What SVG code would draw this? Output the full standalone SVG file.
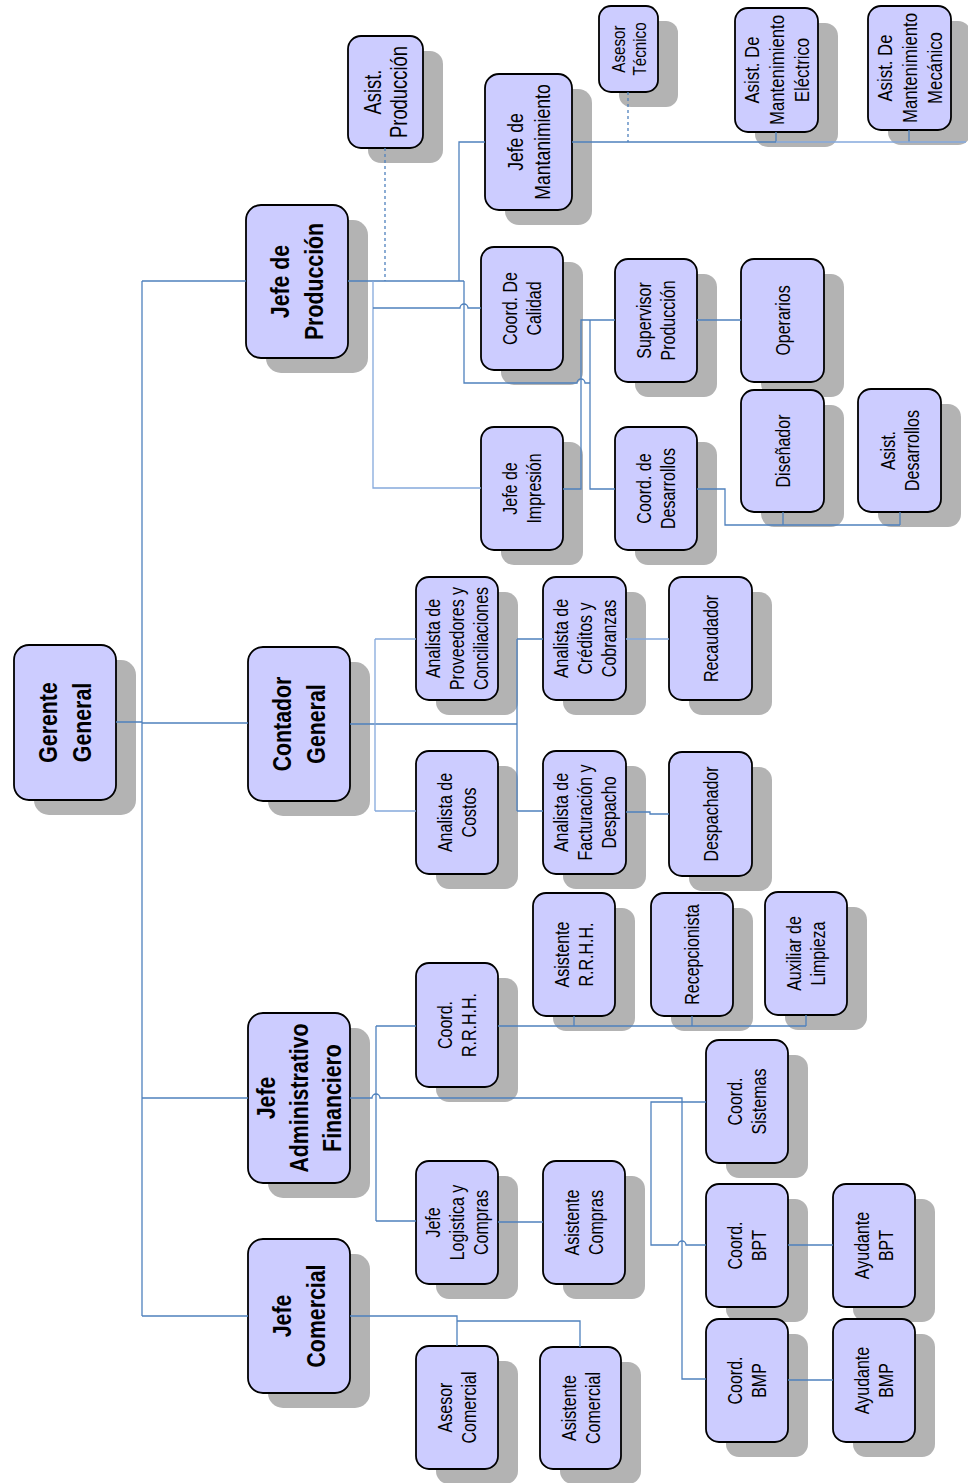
<svg xmlns="http://www.w3.org/2000/svg" width="968" height="1483" viewBox="0 0 968 1483">
<style>
.sh{fill:#B3B3B3}
.bx{fill:#CCCCFF;stroke:#000;stroke-width:1.8}
.t{font-family:"Liberation Sans",Arial,sans-serif;text-anchor:middle;fill:#000}
.b{font-size:26px;font-weight:bold}
.s{font-size:20px}
.c{fill:none;stroke:#4F81BD;stroke-width:1.3}
.l{stroke:#85A9DC}
.d{stroke-dasharray:3 3}
</style>
<rect width="968" height="1483" fill="#FFFFFF"/>

<g id="gerente">
<rect class="sh" x="34" y="660" width="102" height="155" rx="15"/>
<rect class="bx" x="14" y="645" width="102" height="155" rx="15"/>
<text class="t b" transform="translate(65 722.5) rotate(-90) scale(0.82 1)"><tspan x="0" dy="-7.6">Gerente</tspan><tspan x="0" dy="34">General</tspan></text>
</g>
<g id="jefe-produccion">
<rect class="sh" x="266" y="220" width="102" height="153" rx="15"/>
<rect class="bx" x="246" y="205" width="102" height="153" rx="15"/>
<text class="t b" transform="translate(297 281.5) rotate(-90) scale(0.82 1)"><tspan x="0" dy="-7.6">Jefe de</tspan><tspan x="0" dy="34">Producción</tspan></text>
</g>
<g id="contador">
<rect class="sh" x="268" y="662" width="102" height="154" rx="15"/>
<rect class="bx" x="248" y="647" width="102" height="154" rx="15"/>
<text class="t b" transform="translate(299 724) rotate(-90) scale(0.82 1)"><tspan x="0" dy="-7.6">Contador</tspan><tspan x="0" dy="34">General</tspan></text>
</g>
<g id="jefe-administrativo">
<rect class="sh" x="268" y="1028" width="102" height="170" rx="15"/>
<rect class="bx" x="248" y="1013" width="102" height="170" rx="15"/>
<text class="t b" transform="translate(299 1098) rotate(-90) scale(0.82 1)"><tspan x="0" dy="-23.6">Jefe</tspan><tspan x="0" dy="33">Administrativo</tspan><tspan x="0" dy="33">Financiero</tspan></text>
</g>
<g id="jefe-comercial">
<rect class="sh" x="268" y="1254" width="102" height="154" rx="15"/>
<rect class="bx" x="248" y="1239" width="102" height="154" rx="15"/>
<text class="t b" transform="translate(299 1316) rotate(-90) scale(0.82 1)"><tspan x="0" dy="-7.6">Jefe</tspan><tspan x="0" dy="34">Comercial</tspan></text>
</g>

<g id="asist-produccion">
<rect class="sh" x="368" y="51" width="75" height="112" rx="13"/>
<rect class="bx" x="348" y="36" width="75" height="112" rx="13"/>
<text class="t" style="font-size:23px" transform="translate(385.5 92) rotate(-90) scale(0.8 1)"><tspan x="0" dy="-4.7">Asist.</tspan><tspan x="0" dy="26">Producción</tspan></text>
</g>
<g id="jefe-mantenimiento">
<rect class="sh" x="505" y="89" width="87" height="136" rx="14"/>
<rect class="bx" x="485" y="74" width="87" height="136" rx="14"/>
<text class="t" style="font-size:22px" transform="translate(528.5 142) rotate(-90) scale(0.8 1)"><tspan x="0" dy="-5.6">Jefe de</tspan><tspan x="0" dy="27">Mantanimiento</tspan></text>
</g>
<g id="asesor-tecnico">
<rect class="sh" x="619" y="21" width="59" height="86" rx="12"/>
<rect class="bx" x="599" y="6" width="59" height="86" rx="12"/>
<text class="t" style="font-size:19px" transform="translate(628.5 49) rotate(-90) scale(0.8 1)"><tspan x="0" dy="-4">Asesor</tspan><tspan x="0" dy="22">Técnico</tspan></text>
</g>
<g id="asist-mant-electrico">
<rect class="sh" x="755" y="23" width="83" height="124" rx="13"/>
<rect class="bx" x="735" y="8" width="83" height="124" rx="13"/>
<text class="t" style="font-size:21px" transform="translate(776.5 70) rotate(-90) scale(0.8 1)"><tspan x="0" dy="-17.4">Asist. De</tspan><tspan x="0" dy="25">Mantenimiento</tspan><tspan x="0" dy="25">Eléctrico</tspan></text>
</g>
<g id="asist-mant-mecanico">
<rect class="sh" x="888" y="21" width="83" height="124" rx="13"/>
<rect class="bx" x="868" y="6" width="83" height="124" rx="13"/>
<text class="t" style="font-size:21px" transform="translate(909.5 68) rotate(-90) scale(0.8 1)"><tspan x="0" dy="-17.4">Asist. De</tspan><tspan x="0" dy="25">Mantenimiento</tspan><tspan x="0" dy="25">Mecánico</tspan></text>
</g>
<g id="coord-calidad">
<rect class="sh" x="501" y="262" width="82" height="123" rx="13"/>
<rect class="bx" x="481" y="247" width="82" height="123" rx="13"/>
<text class="t s" transform="translate(522 308.5) rotate(-90) scale(0.8 1)"><tspan x="0" dy="-4.8">Coord. De</tspan><tspan x="0" dy="24">Calidad</tspan></text>
</g>
<g id="supervisor-produccion">
<rect class="sh" x="635" y="274" width="82" height="123" rx="13"/>
<rect class="bx" x="615" y="259" width="82" height="123" rx="13"/>
<text class="t s" transform="translate(656 320.5) rotate(-90) scale(0.8 1)"><tspan x="0" dy="-4.8">Supervisor</tspan><tspan x="0" dy="24">Producción</tspan></text>
</g>
<g id="operarios">
<rect class="sh" x="761" y="274" width="83" height="123" rx="13"/>
<rect class="bx" x="741" y="259" width="83" height="123" rx="13"/>
<text class="t s" transform="translate(782.5 320.5) rotate(-90) scale(0.8 1)"><tspan x="0" dy="7.2">Operarios</tspan></text>
</g>
<g id="disenador">
<rect class="sh" x="761" y="405" width="83" height="122" rx="13"/>
<rect class="bx" x="741" y="390" width="83" height="122" rx="13"/>
<text class="t s" transform="translate(782.5 451) rotate(-90) scale(0.8 1)"><tspan x="0" dy="7.2">Diseñador</tspan></text>
</g>
<g id="asist-desarrollos">
<rect class="sh" x="878" y="404" width="83" height="123" rx="13"/>
<rect class="bx" x="858" y="389" width="83" height="123" rx="13"/>
<text class="t s" transform="translate(899.5 450.5) rotate(-90) scale(0.8 1)"><tspan x="0" dy="-4.8">Asist.</tspan><tspan x="0" dy="24">Desarrollos</tspan></text>
</g>
<g id="jefe-impresion">
<rect class="sh" x="501" y="442" width="82" height="123" rx="13"/>
<rect class="bx" x="481" y="427" width="82" height="123" rx="13"/>
<text class="t s" transform="translate(522 488.5) rotate(-90) scale(0.8 1)"><tspan x="0" dy="-4.8">Jefe de</tspan><tspan x="0" dy="24">Impresión</tspan></text>
</g>
<g id="coord-desarrollos">
<rect class="sh" x="635" y="442" width="82" height="123" rx="13"/>
<rect class="bx" x="615" y="427" width="82" height="123" rx="13"/>
<text class="t s" transform="translate(656 488.5) rotate(-90) scale(0.8 1)"><tspan x="0" dy="-4.8">Coord. de</tspan><tspan x="0" dy="24">Desarrollos</tspan></text>
</g>
<g id="analista-proveedores">
<rect class="sh" x="436" y="592" width="82" height="123" rx="13"/>
<rect class="bx" x="416" y="577" width="82" height="123" rx="13"/>
<text class="t s" transform="translate(457 638.5) rotate(-90) scale(0.8 1)"><tspan x="0" dy="-16.8">Analista de</tspan><tspan x="0" dy="24">Proveedores y</tspan><tspan x="0" dy="24">Conciliaciones</tspan></text>
</g>
<g id="analista-creditos">
<rect class="sh" x="563" y="592" width="83" height="123" rx="13"/>
<rect class="bx" x="543" y="577" width="83" height="123" rx="13"/>
<text class="t s" transform="translate(584.5 638.5) rotate(-90) scale(0.8 1)"><tspan x="0" dy="-16.8">Analista de</tspan><tspan x="0" dy="24">Créditos y</tspan><tspan x="0" dy="24">Cobranzas</tspan></text>
</g>
<g id="recaudador">
<rect class="sh" x="689" y="592" width="83" height="123" rx="13"/>
<rect class="bx" x="669" y="577" width="83" height="123" rx="13"/>
<text class="t s" transform="translate(710.5 638.5) rotate(-90) scale(0.8 1)"><tspan x="0" dy="7.2">Recaudador</tspan></text>
</g>
<g id="analista-costos">
<rect class="sh" x="436" y="766" width="82" height="123" rx="13"/>
<rect class="bx" x="416" y="751" width="82" height="123" rx="13"/>
<text class="t s" transform="translate(457 812.5) rotate(-90) scale(0.8 1)"><tspan x="0" dy="-4.8">Analista de</tspan><tspan x="0" dy="24">Costos</tspan></text>
</g>
<g id="analista-facturacion">
<rect class="sh" x="563" y="766" width="83" height="123" rx="13"/>
<rect class="bx" x="543" y="751" width="83" height="123" rx="13"/>
<text class="t s" transform="translate(584.5 812.5) rotate(-90) scale(0.8 1)"><tspan x="0" dy="-16.8">Analista de</tspan><tspan x="0" dy="24">Facturación y</tspan><tspan x="0" dy="24">Despacho</tspan></text>
</g>
<g id="despachador">
<rect class="sh" x="689" y="767" width="83" height="124" rx="13"/>
<rect class="bx" x="669" y="752" width="83" height="124" rx="13"/>
<text class="t s" transform="translate(710.5 814) rotate(-90) scale(0.8 1)"><tspan x="0" dy="7.2">Despachador</tspan></text>
</g>
<g id="asistente-rrhh">
<rect class="sh" x="553" y="908" width="82" height="123" rx="13"/>
<rect class="bx" x="533" y="893" width="82" height="123" rx="13"/>
<text class="t s" transform="translate(574 954.5) rotate(-90) scale(0.8 1)"><tspan x="0" dy="-4.8">Asistente</tspan><tspan x="0" dy="24">R.R.H.H.</tspan></text>
</g>
<g id="recepcionista">
<rect class="sh" x="671" y="908" width="82" height="123" rx="13"/>
<rect class="bx" x="651" y="893" width="82" height="123" rx="13"/>
<text class="t s" transform="translate(692 954.5) rotate(-90) scale(0.8 1)"><tspan x="0" dy="7.2">Recepcionista</tspan></text>
</g>
<g id="auxiliar-limpieza">
<rect class="sh" x="785" y="907" width="82" height="123" rx="13"/>
<rect class="bx" x="765" y="892" width="82" height="123" rx="13"/>
<text class="t s" transform="translate(806 953.5) rotate(-90) scale(0.8 1)"><tspan x="0" dy="-4.8">Auxiliar de</tspan><tspan x="0" dy="24">Limpieza</tspan></text>
</g>
<g id="coord-rrhh">
<rect class="sh" x="436" y="978" width="82" height="124" rx="13"/>
<rect class="bx" x="416" y="963" width="82" height="124" rx="13"/>
<text class="t s" transform="translate(457 1025) rotate(-90) scale(0.8 1)"><tspan x="0" dy="-4.8">Coord.</tspan><tspan x="0" dy="24">R.R.H.H.</tspan></text>
</g>
<g id="coord-sistemas">
<rect class="sh" x="726" y="1055" width="82" height="123" rx="13"/>
<rect class="bx" x="706" y="1040" width="82" height="123" rx="13"/>
<text class="t s" transform="translate(747 1101.5) rotate(-90) scale(0.8 1)"><tspan x="0" dy="-4.8">Coord.</tspan><tspan x="0" dy="24">Sistemas</tspan></text>
</g>
<g id="jefe-logistica">
<rect class="sh" x="436" y="1176" width="82" height="123" rx="13"/>
<rect class="bx" x="416" y="1161" width="82" height="123" rx="13"/>
<text class="t s" transform="translate(457 1222.5) rotate(-90) scale(0.8 1)"><tspan x="0" dy="-16.8">Jefe</tspan><tspan x="0" dy="24">Logistica y</tspan><tspan x="0" dy="24">Compras</tspan></text>
</g>
<g id="asistente-compras">
<rect class="sh" x="563" y="1176" width="82" height="123" rx="13"/>
<rect class="bx" x="543" y="1161" width="82" height="123" rx="13"/>
<text class="t s" transform="translate(584 1222.5) rotate(-90) scale(0.8 1)"><tspan x="0" dy="-4.8">Asistente</tspan><tspan x="0" dy="24">Compras</tspan></text>
</g>
<g id="coord-bpt">
<rect class="sh" x="726" y="1199" width="82" height="123" rx="13"/>
<rect class="bx" x="706" y="1184" width="82" height="123" rx="13"/>
<text class="t s" transform="translate(747 1245.5) rotate(-90) scale(0.8 1)"><tspan x="0" dy="-4.8">Coord.</tspan><tspan x="0" dy="24">BPT</tspan></text>
</g>
<g id="ayudante-bpt">
<rect class="sh" x="853" y="1199" width="82" height="123" rx="13"/>
<rect class="bx" x="833" y="1184" width="82" height="123" rx="13"/>
<text class="t s" transform="translate(874 1245.5) rotate(-90) scale(0.8 1)"><tspan x="0" dy="-4.8">Ayudante</tspan><tspan x="0" dy="24">BPT</tspan></text>
</g>
<g id="coord-bmp">
<rect class="sh" x="726" y="1334" width="82" height="123" rx="13"/>
<rect class="bx" x="706" y="1319" width="82" height="123" rx="13"/>
<text class="t s" transform="translate(747 1380.5) rotate(-90) scale(0.8 1)"><tspan x="0" dy="-4.8">Coord.</tspan><tspan x="0" dy="24">BMP</tspan></text>
</g>
<g id="ayudante-bmp">
<rect class="sh" x="853" y="1334" width="82" height="123" rx="13"/>
<rect class="bx" x="833" y="1319" width="82" height="123" rx="13"/>
<text class="t s" transform="translate(874 1380.5) rotate(-90) scale(0.8 1)"><tspan x="0" dy="-4.8">Ayudante</tspan><tspan x="0" dy="24">BMP</tspan></text>
</g>
<g id="asesor-comercial">
<rect class="sh" x="436" y="1361" width="82" height="123" rx="13"/>
<rect class="bx" x="416" y="1346" width="82" height="123" rx="13"/>
<text class="t s" transform="translate(457 1407.5) rotate(-90) scale(0.8 1)"><tspan x="0" dy="-4.8">Asesor</tspan><tspan x="0" dy="24">Comercial</tspan></text>
</g>
<g id="asistente-comercial">
<rect class="sh" x="560" y="1362" width="81" height="122" rx="13"/>
<rect class="bx" x="540" y="1347" width="81" height="122" rx="13"/>
<text class="t s" transform="translate(580.5 1408) rotate(-90) scale(0.8 1)"><tspan x="0" dy="-4.8">Asistente</tspan><tspan x="0" dy="24">Comercial</tspan></text>
</g>

<g id="connectors">
<path class="c" d="M116 722H142M142 281V1316M142 281H246M142 723H248M142 1098H248M142 1316H248"/>
<path class="c" d="M348 281H464M459 281V142H485"/>
<path class="c" d="M464 281V383H577a4 4 0 0 1 8 0H590"/>
<path class="c l" d="M373 281V488H481"/>
<path class="c" d="M373 308H460a4 4 0 0 1 8 0H481"/>
<path class="c" d="M563 489H581V320H615"/>
<path class="c" d="M590 320V489H615"/>
<path class="c d" d="M385 148V281"/>
<path class="c" d="M697 320H741"/>
<path class="c" d="M697 489H725V525H900M783 512V525M900 512V525"/>
<path class="c" d="M572 142H776M909 130V142M776 132V142"/>
<path class="c l" d="M776 142H966"/>
<path class="c d" d="M628 92V142"/>
<path class="c" d="M350 724H517M517 639V811M517 639H543M517 811H543"/>
<path class="c l" d="M375 639V811M375 639H416M375 811H416"/>
<path class="c l" d="M626 639H669"/>
<path class="c" d="M626 812H650V814H669"/>
<path class="c" d="M350 1098H372a4 4 0 0 1 8 0H682V1379H706"/>
<path class="c" d="M376 1026V1221M376 1026H416M376 1221H416"/>
<path class="c" d="M498 1026H806M574 1016V1026M692 1016V1026M806 1015V1026"/>
<path class="c" d="M498 1222H543"/>
<path class="c" d="M706 1102H651V1245H678a4 4 0 0 1 8 0H706"/>
<path class="c" d="M788 1245H833M788 1380H833"/>
<path class="c" d="M350 1316H457V1346M457 1321H580V1347"/>
</g>
</svg>
